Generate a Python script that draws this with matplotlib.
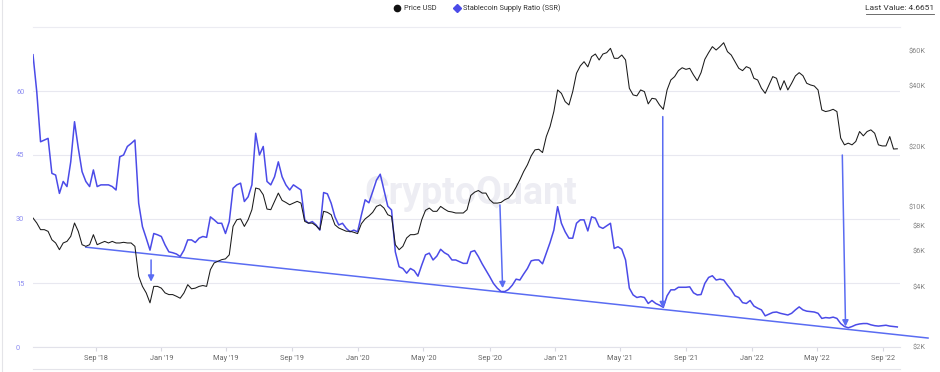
import matplotlib.pyplot as plt
import matplotlib.dates as mdates
from matplotlib.lines import Line2D
from matplotlib.ticker import FixedLocator, NullLocator
import pandas as pd

plt.rcParams['font.family'] = ['Roboto', 'DejaVu Sans']

# weekly samples, starting 2018-05-08
start = '2018-05-08'
ssr = [
    68.5, 59.8, 48.1, 48.5, 48.9, 40.7, 40.3, 36.0, 38.8, 37.6,
    43.4, 52.8, 46.6, 41.1, 38.8, 37.6, 41.5, 37.6, 38.0, 38.0,
    38.0, 37.6, 36.8, 44.6, 45.0, 47.0, 47.7, 48.5, 33.7, 28.2,
    25.5, 22.7, 26.6, 26.3, 25.9, 23.9, 22.3, 22.1, 21.8, 21.2,
    22.7, 25.1, 25.1, 24.5, 25.5, 25.9, 25.7, 30.5, 29.8, 29.0,
    29.0, 26.6, 29.4, 37.2, 38.0, 38.4, 34.1, 35.2, 38.0, 50.1,
    45.0, 47.0, 38.8, 38.0, 39.9, 43.4, 39.9, 38.0, 36.8, 38.0,
    37.4, 36.8, 29.8, 29.0, 29.4, 28.6, 27.4, 36.2, 35.9, 33.7,
    30.5, 28.6, 29.0, 27.8, 27.0, 27.4, 27.0, 30.9, 34.5, 33.8,
    36.4, 39.1, 40.5, 36.8, 33.0, 32.1, 22.3, 18.8, 18.4, 17.3,
    18.4, 17.9, 16.6, 19.2, 21.6, 22.0, 20.4, 21.3, 22.9, 22.1,
    21.6, 20.4, 20.4, 20.0, 19.6, 19.6, 22.3, 22.6, 21.2, 19.5,
    18.0, 16.5, 14.9, 13.8, 13.0, 13.0, 13.5, 14.5, 15.9, 15.7,
    17.1, 18.4, 20.2, 20.4, 20.4, 19.5, 22.0, 24.5, 27.4, 32.9,
    29.0, 27.0, 25.5, 25.5, 29.0, 29.8, 29.8, 27.2, 30.5, 30.2,
    28.2, 27.8, 28.4, 29.0, 23.1, 23.5, 22.9, 20.4, 13.8, 12.2,
    11.6, 11.8, 11.6, 10.2, 10.9, 10.2, 9.8, 9.3, 12.0, 13.4,
    13.4, 14.0, 14.0, 14.0, 14.1, 12.7, 12.2, 12.3, 14.9, 16.3,
    16.7, 15.7, 15.9, 15.7, 14.5, 13.4, 12.0, 11.6, 10.4, 10.2,
    10.9, 9.6, 9.1, 8.7, 7.3, 7.7, 8.1, 8.2, 7.9, 7.7,
    7.5, 7.9, 8.7, 9.4, 8.7, 8.4, 8.3, 8.2, 7.9, 6.7,
    6.9, 6.8, 7.0, 6.7, 5.5, 4.8, 4.5, 4.8, 5.2, 5.4,
    5.5, 5.5, 5.2, 5.0, 4.9, 5.0, 5.1, 4.9, 4.8, 4.7,
]
price = [
    8790, 8300, 7690, 7690, 7540, 6850, 6600, 6110, 6600, 6720,
    7120, 8300, 7540, 6470, 6350, 6470, 7260, 6470, 6600, 6720,
    6600, 6720, 6600, 6600, 6650, 6600, 6600, 6350, 4500, 4010,
    3720, 3320, 4010, 4010, 3930, 3720, 3650, 3650, 3580, 3500,
    3720, 4090, 3900, 3930, 4010, 4050, 4010, 4860, 5250, 5350,
    5450, 5500, 5760, 7980, 8620, 8700, 7980, 8620, 9670, 12400,
    12250, 11480, 9740, 9670, 10640, 11700, 10760, 10510, 10230, 10430,
    10640, 10430, 8450, 8290, 8290, 8040, 7690, 9490, 9380, 9130,
    8130, 7840, 7690, 7550, 7550, 7460, 7350, 8230, 8700, 9000,
    9380, 10040, 10230, 9850, 9130, 8950, 6470, 6110, 6350, 6990,
    7260, 7260, 7350, 8620, 9600, 9850, 9490, 9490, 10040, 9740,
    9490, 9420, 9310, 9310, 9310, 9670, 11390, 11820, 12050, 11700,
    11700, 10840, 10430, 10430, 10510, 10840, 11050, 11610, 12520, 13630,
    14980, 16190, 17940, 19210, 19350, 18630, 22390, 25110, 29820, 38220,
    36760, 33430, 32170, 37480, 46270, 50330, 52860, 49800, 55990, 57720,
    53900, 57720, 58610, 61600, 54940, 54940, 57060, 53900, 38970, 36100,
    35700, 38220, 37480, 32560, 34720, 34450, 32170, 30600, 38220, 42850,
    44530, 47700, 49300, 48400, 48980, 45390, 42500, 46600, 54300, 58610,
    62810, 60430, 62810, 65700, 59300, 57060, 52860, 48980, 47700, 49930,
    48980, 43680, 42850, 38970, 36760, 40470, 44530, 43680, 38220, 42500,
    38220, 41250, 44900, 46600, 45000, 41250, 40470, 40000, 38220, 30390,
    29820, 30100, 30600, 29820, 22000, 20350, 20750, 20350, 21150, 23710,
    22570, 23710, 24170, 23260, 20350, 20100, 20100, 22390, 19400, 19450,
]
dates = pd.date_range(start, periods=len(ssr), freq='7D')

# support line and the arrows drawn on the chart
trend_dates = ['2018-08-14', '2022-11-23']
trend_ssr = [23.4, 2.1]
arrow_top_dates = ['2018-12-13', '2020-09-20', '2021-07-19', '2022-06-17']
arrow_tip_dates = ['2018-12-13', '2020-09-25', '2021-07-19', '2022-06-23']
arrow_top = [20.4, 33.3, 54.0, 45.0]
arrow_tip = [15.3, 13.8, 9.1, 4.8]

ssr_ticks = [0, 15, 30, 45, 60]
price_ticks = [2000, 4000, 6000, 8000, 10000, 20000, 40000, 60000]
price_labels = ['$2K', '$4K', '$6K', '$8K', '$10K', '$20K', '$40K', '$60K']
month_ticks = pd.date_range('2018-09-01', '2022-09-01', freq='4MS')

blue = '#4b4be8'
line_blue = '#5a6cf2'

fig = plt.figure(figsize=(9.4, 3.72), dpi=100)
W, H = 940, 372
ax = fig.add_axes([33 / W, 1 - 347 / H, 867 / W, 320 / H])
ax.set_xlim(pd.Timestamp('2018-05-08'), pd.Timestamp('2022-10-02'))
ax.set_ylim(0, 75)

ax.set_yticks(ssr_ticks)
ax.tick_params(axis='y', length=0, labelsize=5.3, labelcolor='#8d8df2', pad=12.2)
for lbl in ax.get_yticklabels():
    lbl.set_horizontalalignment('left')
ax.grid(axis='y', color='#e8e8f0', lw=0.8)
ax.set_axisbelow(True)
for s in ['left', 'right']:
    ax.spines[s].set_visible(False)
ax.spines['top'].set_color('#ececf2')
ax.spines['bottom'].set_color('#e2e2ea')

ax.set_xticks(month_ticks)
ax.set_xticklabels([d.strftime("%b '%y") for d in month_ticks])
ax.tick_params(axis='x', length=3, color='#d8d8e0', labelsize=5.3, labelcolor='#666666', pad=2.5)

ax.text(0.505, 0.48, 'CryptoQuant', transform=ax.transAxes, fontsize=27,
        fontweight='bold', color='#ededf3', ha='center', va='center', zorder=0.5)

ax.plot(dates, ssr, color=blue, lw=1.1, zorder=3)
ax.plot(pd.to_datetime(trend_dates), trend_ssr, color=line_blue, lw=1.1,
        clip_on=False, zorder=2.5)
for d0, d1, y0, y1 in zip(arrow_top_dates, arrow_tip_dates, arrow_top, arrow_tip):
    ax.annotate('', xy=(mdates.date2num(pd.Timestamp(d1)), y1),
                xytext=(mdates.date2num(pd.Timestamp(d0)), y0),
                arrowprops=dict(arrowstyle='-|>', color=line_blue, lw=1.1,
                                mutation_scale=9, shrinkA=0, shrinkB=0))

ax2 = ax.twinx()
ax2.set_yscale('log')
ax2.set_ylim(2000, 78700)
ax2.yaxis.set_major_locator(FixedLocator(price_ticks))
ax2.yaxis.set_minor_locator(NullLocator())
ax2.set_yticklabels(price_labels)
ax2.tick_params(axis='y', length=0, labelsize=5.3, labelcolor='#888888', pad=18.7)
for lbl in ax2.get_yticklabels():
    lbl.set_horizontalalignment('right')
for s in ax2.spines.values():
    s.set_visible(False)
ax2.plot(dates, price, color='#1a1a1a', lw=0.75)

# header legend
fig.add_artist(Line2D([397 / W], [1 - 8 / H], marker='o', color='#111111',
                      markersize=4.5, transform=fig.transFigure))
fig.text(404 / W, 1 - 8 / H, 'Price USD', fontsize=5.3, va='center', color='#333333')
fig.add_artist(Line2D([457 / W], [1 - 8 / H], marker='D', color=blue,
                      markersize=3.8, transform=fig.transFigure))
fig.text(463 / W, 1 - 8 / H, 'Stablecoin Supply Ratio (SSR)', fontsize=5.3,
         va='center', color='#333333')
fig.text(934 / W, 1 - 8 / H, 'Last Value: 4.6651', fontsize=6, ha='right',
         va='center', color='#333333')
fig.add_artist(Line2D([866 / W, 934 / W], [1 - 14 / H, 1 - 14 / H], color='#555555',
                      lw=0.6, transform=fig.transFigure))

# frame details
fig.add_artist(Line2D([2 / W, 2 / W], [0, 1], color='#e4e4e8', lw=0.8,
                      transform=fig.transFigure))
fig.add_artist(Line2D([33 / W, 900 / W], [1 - 369 / H, 1 - 369 / H], color='#e4e4ea',
                      lw=0.8, transform=fig.transFigure))

fig.savefig('out.png', dpi=100, facecolor='white')
